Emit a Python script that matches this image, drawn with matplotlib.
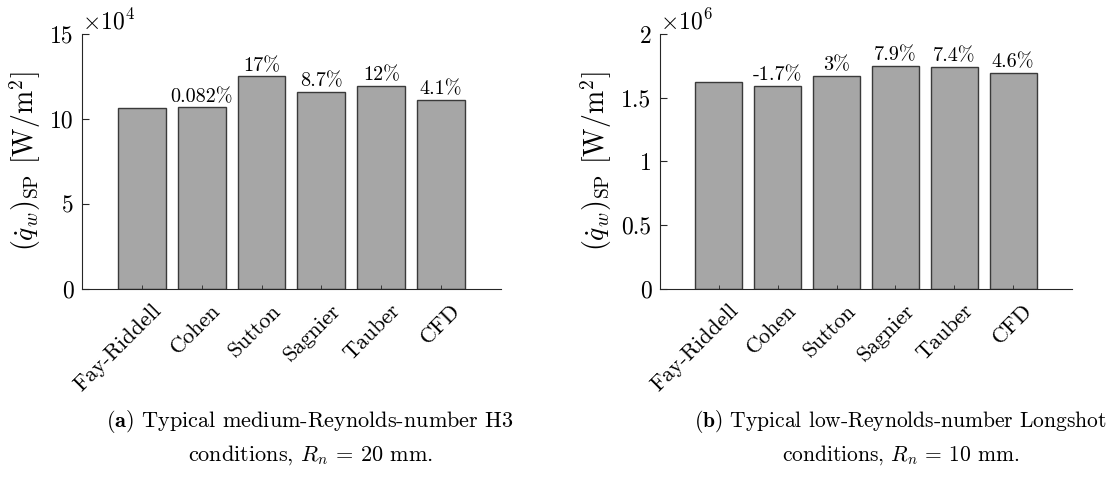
import matplotlib
matplotlib.use("Agg")
import matplotlib.pyplot as plt
from matplotlib.ticker import ScalarFormatter, FixedLocator
from matplotlib.transforms import ScaledTranslation

plt.rcParams['font.family'] = ['cmr10']
plt.rcParams['mathtext.fontset'] = 'cm'
plt.rcParams['axes.formatter.use_mathtext'] = True
plt.rcParams['axes.unicode_minus'] = False

# ---- data ----
methods = ["Fay-Riddell", "Cohen", "Sutton", "Sagnier", "Tauber", "CFD"]
heat_h3 = [10.67e4, 10.68e4, 12.50e4, 11.60e4, 11.95e4, 11.11e4]
labels_h3 = ["", "0.082%", "17%", "8.7%", "12%", "4.1%"]
heat_ls = [1.622e6, 1.594e6, 1.670e6, 1.750e6, 1.742e6, 1.697e6]
labels_ls = ["", "-1.7%", "3%", "7.9%", "7.4%", "4.6%"]
yticks_h3 = [0, 5e4, 10e4, 15e4]
yticks_ls = [0, 0.5e6, 1.0e6, 1.5e6, 2.0e6]
caption_a = r"$\mathbf{(a)}$ Typical medium-Reynolds-number H3" + "\n" + r"conditions, $R_n$ = 20 mm."
caption_b = r"$\mathbf{(b)}$ Typical low-Reynolds-number Longshot" + "\n" + r"conditions, $R_n$ = 10 mm."
ylabel = r"$(\dot{q}_w)_{\rm SP}$ [W/m$^2$]"


class GFormatter(ScalarFormatter):
    def _set_format(self):
        self.format = '%g'


fig = plt.figure(figsize=(11.12, 4.88), dpi=100)
axA = fig.add_axes([0.0737, 0.4084, 0.3768, 0.5219])
axB = fig.add_axes([0.5935, 0.4084, 0.3705, 0.5219])

axis_col = '#262626'
shift = ScaledTranslation(0.09, -0.12, fig.dpi_scale_trans)


def draw(ax, vals, labs, yticks, order):
    x = list(range(1, len(methods) + 1))
    bars = ax.bar(x, vals, width=0.8, color='#a6a6a6', edgecolor='#3a3a3a', linewidth=1.0)
    ax.bar_label(bars, labels=labs, padding=1, fontsize=14.5)
    ax.set_xlim(0, len(methods) + 1)
    ax.set_ylim(yticks[0], yticks[-1])
    ax.yaxis.set_major_locator(FixedLocator(yticks))
    fmt = GFormatter(useMathText=True)
    fmt.set_powerlimits((order, order))
    ax.yaxis.set_major_formatter(fmt)
    ax.set_xticks(x)
    ax.set_xticklabels([])
    tr = ax.get_xaxis_transform() + shift
    for xi, name in zip(x, methods):
        ax.text(xi, 0, name, transform=tr, rotation=45, ha='right', va='top',
                rotation_mode='anchor', fontsize=16, clip_on=False)
    ax.tick_params(axis='y', direction='in', length=5, width=0.8, labelsize=17,
                   colors=axis_col, pad=6)
    ax.tick_params(axis='x', direction='in', length=3, width=0.6, colors=axis_col)
    for lab in ax.get_yticklabels():
        lab.set_color('black')
    ax.yaxis.get_offset_text().set_fontsize(17)
    ax.yaxis.get_offset_text().set_color('black')
    for s in ['top', 'right']:
        ax.spines[s].set_visible(False)
    for s in ['left', 'bottom']:
        ax.spines[s].set_color(axis_col)
        ax.spines[s].set_linewidth(0.8)
    ax.set_ylabel(ylabel, fontsize=20, labelpad=5)


draw(axA, heat_h3, labels_h3, yticks_h3, 4)
draw(axB, heat_ls, labels_ls, yticks_ls, 6)

fig.text(0.279, 0.1035, caption_a, ha='center', va='center', fontsize=16, linespacing=1.5)
fig.text(0.810, 0.1035, caption_b, ha='center', va='center', fontsize=15.5, linespacing=1.5)

fig.savefig("out.png", dpi=100)
